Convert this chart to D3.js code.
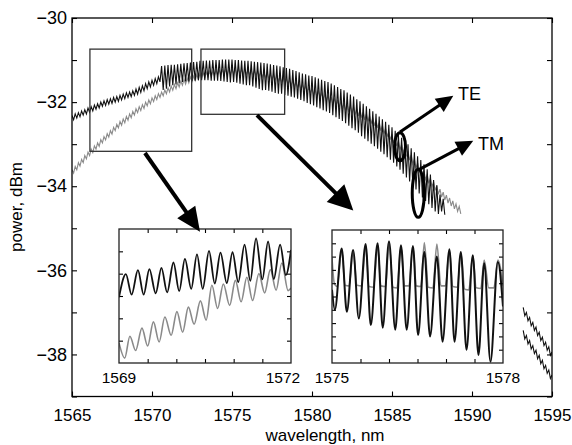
<!DOCTYPE html>
<html>
<head>
<meta charset="utf-8">
<script src="https://cdn.jsdelivr.net/npm/d3@7"></script>
<style>
  body { margin: 0; background: #fff; }
  text { font-family: "Liberation Sans", Arial, Helvetica, sans-serif; }
</style>
</head>
<body>
<div class="visHolder"></div>
<script>
// ---- main axes ----
var wlDomain = [1565, 1595],
    powerDomain = [-39, -30];
var xTicks = [1565, 1570, 1575, 1580, 1585, 1590, 1595];
var yTicks = [-39, -38, -37, -36, -35, -34, -33, -32, -31, -30];
var yLabels = [-38, -36, -34, -32, -30];

// main traces: max / min of the fringes, alternating every 0.1 nm from tmStart
// TM = black trace
var tmStart = 1565;
var tmMax = [
  -32.32,-32.28,-32.25,-32.21,-32.18, -32.14,-32.11,-32.07,-32.04,-32.00,
  -31.97,-31.94,-31.92,-31.89,-31.87, -31.84,-31.81,-31.78,-31.76,-31.73,
  -31.69,-31.65,-31.61,-31.56,-31.52, -31.48,-31.44,-31.40,-31.14,-31.13,
  -31.12,-31.11,-31.11,-31.10,-31.09, -31.08,-31.07,-31.06,-31.05,-31.04,
  -31.02,-31.02,-31.01,-31.01,-31.00, -31.00,-31.00,-30.99,-30.99,-30.99,
  -30.99,-31.00,-31.00,-31.01,-31.02, -31.02,-31.03,-31.04,-31.05,-31.06,
  -31.07,-31.08,-31.10,-31.12,-31.13, -31.15,-31.17,-31.19,-31.21,-31.24,
  -31.26,-31.29,-31.32,-31.34,-31.37, -31.38,-31.41,-31.44,-31.47,-31.50,
  -31.52,-31.56,-31.60,-31.64,-31.69, -31.72,-31.77,-31.82,-31.87,-31.93,
  -31.98,-32.04,-32.10,-32.16,-32.22, -32.28,-32.34,-32.41,-32.47,-32.54,
  -32.60,-32.68,-32.77,-32.85,-32.93, -33.00,-33.10,-33.19,-33.29,-33.38,
  -33.48,-33.60,-33.72,-33.85,-33.98, -34.20,-34.30
];
var tmMin = [
  -32.42,-32.38,-32.35,-32.31,-32.28, -32.24,-32.21,-32.17,-32.14,-32.10,
  -32.08,-32.05,-32.03,-32.00,-31.98, -31.95,-31.92,-31.89,-31.87,-31.84,
  -31.81,-31.77,-31.73,-31.68,-31.64, -31.60,-31.56,-31.52,-31.71,-31.68,
  -31.63,-31.60,-31.58,-31.55,-31.52, -31.51,-31.51,-31.50,-31.49,-31.48,
  -31.48,-31.48,-31.48,-31.49,-31.49, -31.49,-31.50,-31.51,-31.52,-31.53,
  -31.52,-31.54,-31.56,-31.58,-31.60, -31.60,-31.63,-31.66,-31.69,-31.72,
  -31.71,-31.73,-31.75,-31.78,-31.80, -31.80,-31.83,-31.85,-31.87,-31.89,
  -31.92,-31.95,-31.98,-32.02,-32.05, -32.08,-32.12,-32.15,-32.19,-32.22,
  -32.26,-32.31,-32.36,-32.40,-32.45, -32.50,-32.56,-32.62,-32.67,-32.73,
  -32.81,-32.87,-32.93,-32.99,-33.05, -33.11,-33.18,-33.24,-33.31,-33.37,
  -33.44,-33.53,-33.61,-33.70,-33.79, -33.89,-33.98,-34.08,-34.17,-34.27,
  -34.35,-34.43,-34.52,-34.60,-34.66, -34.60,-34.68
];
// TE = grey trace
var teStart = 1565;
var teMax = [
  -33.61,-33.53,-33.44,-33.36,-33.27, -33.19,-33.12,-33.04,-32.97,-32.89,
  -32.82,-32.75,-32.68,-32.60,-32.53, -32.46,-32.40,-32.34,-32.28,-32.22,
  -32.16,-32.11,-32.06,-32.00,-31.95, -31.90,-31.85,-31.80,-31.76,-31.71,
  -31.66,-31.62,-31.58,-31.54,-31.50, -31.46,-31.43,-31.40,-31.38,-31.35,
  -31.32,-31.30,-31.29,-31.27,-31.26, -31.24,-31.23,-31.23,-31.22,-31.22,
  -31.21,-31.21,-31.21,-31.22,-31.22, -31.23,-31.24,-31.25,-31.26,-31.28,
  -31.29,-31.31,-31.33,-31.35,-31.37, -31.39,-31.42,-31.44,-31.47,-31.49,
  -31.52,-31.55,-31.58,-31.62,-31.65, -31.67,-31.71,-31.74,-31.78,-31.81,
  -31.84,-31.88,-31.91,-31.95,-31.98, -32.02,-32.05,-32.09,-32.12,-32.16,
  -32.19,-32.24,-32.28,-32.33,-32.37, -32.42,-32.49,-32.56,-32.63,-32.70,
  -32.77,-32.85,-32.93,-33.01,-33.09, -33.17,-33.26,-33.36,-33.45,-33.55,
  -33.64,-33.73,-33.81,-33.90,-33.98, -34.07,-34.14,-34.21,-34.28,-34.35,
  -34.42,-34.48
];
var teMin = [
  -33.69,-33.61,-33.52,-33.44,-33.35, -33.27,-33.20,-33.12,-33.05,-32.97,
  -32.90,-32.83,-32.76,-32.68,-32.61, -32.55,-32.49,-32.43,-32.37,-32.31,
  -32.25,-32.20,-32.15,-32.09,-32.04, -31.99,-31.94,-31.89,-31.85,-31.80,
  -31.76,-31.72,-31.68,-31.64,-31.60, -31.57,-31.54,-31.51,-31.49,-31.46,
  -31.43,-31.42,-31.40,-31.39,-31.37, -31.36,-31.35,-31.35,-31.34,-31.34,
  -31.33,-31.33,-31.33,-31.34,-31.34, -31.35,-31.36,-31.37,-31.39,-31.40,
  -31.42,-31.44,-31.46,-31.48,-31.50, -31.52,-31.55,-31.58,-31.60,-31.63,
  -31.65,-31.69,-31.72,-31.75,-31.78, -31.83,-31.86,-31.90,-31.93,-31.97,
  -32.02,-32.05,-32.09,-32.12,-32.16, -32.20,-32.23,-32.27,-32.30,-32.33,
  -32.37,-32.42,-32.46,-32.51,-32.56, -32.61,-32.68,-32.75,-32.82,-32.89,
  -32.97,-33.05,-33.13,-33.21,-33.29, -33.38,-33.47,-33.57,-33.66,-33.76,
  -33.84,-33.93,-34.01,-34.10,-34.19, -34.26,-34.33,-34.40,-34.47,-34.54,
  -34.60,-34.66
];
// short pieces at the right edge, one value every 0.1 nm from tailStart
var tailStart = 1593.2;
var tailUpper = [-36.88,-37.08,-37.00,-37.20,-37.12,-37.32,-37.24,-37.43,-37.35,-37.55,
                 -37.47,-37.67,-37.59,-37.79,-37.71,-37.90,-37.82,-38.02,-37.94];
var tailLower = [-37.43,-37.63,-37.55,-37.75,-37.67,-37.87,-37.79,-37.98,-37.90,-38.10,
                 -38.02,-38.22,-38.14,-38.34,-38.26,-38.45,-38.37,-38.57,-38.49];

// zoom boxes on the main plot [wl0, wl1, p0, p1]
var boxes = [[1566.12, 1572.48, -30.74, -33.17], [1573.06, 1578.29, -30.74, -32.29]];

// ---- inset 1 ----
var in1Wl = [1569, 1572], in1Power = [-33.5, -30.5];
var in1XTicks = [1569.5, 1570, 1570.5, 1571, 1571.5];
var in1YTicks = [-33, -32.5, -32, -31.5, -31];
var in1Labels = [1569, 1572];
var in1TmWl = [1569.00,1569.12,1569.22,1569.33,1569.43,1569.53,1569.64,1569.74,1569.84,1569.95,
               1570.05,1570.15,1570.26,1570.36,1570.46,1570.57,1570.67,1570.77,1570.88,1570.98,
               1571.08,1571.19,1571.29,1571.39,1571.50,1571.60,1571.70,1571.81,1571.91,1572.00];
var in1TmP = [-32.03,-31.51,-31.97,-31.42,-31.97,-31.40,-31.94,-31.37,-31.92,-31.25,
              -31.89,-31.17,-31.84,-31.07,-31.84,-30.99,-31.72,-31.03,-31.71,-31.02,
              -31.69,-30.85,-31.66,-30.71,-31.63,-30.78,-31.62,-30.85,-31.53,-30.97];
var in1TeWl = [1569.00,1569.10,1569.19,1569.29,1569.40,1569.50,1569.60,1569.70,1569.80,1569.91,
               1570.01,1570.11,1570.21,1570.31,1570.42,1570.52,1570.62,1570.72,1570.82,1570.93,
               1571.03,1571.13,1571.23,1571.33,1571.44,1571.54,1571.64,1571.74,1571.84,1571.95,1572.00];
var in1TeP = [-33.05,-33.39,-32.90,-33.22,-32.72,-33.12,-32.58,-33.03,-32.47,-32.88,
              -32.35,-32.81,-32.25,-32.63,-32.11,-32.54,-31.76,-32.28,-31.73,-32.21,
              -31.65,-32.13,-31.58,-32.10,-31.50,-31.93,-31.41,-31.87,-31.26,-31.88,-31.82];

// ---- inset 2 ----
var in2Wl = [1575, 1578], in2Power = [-32.6, -30.6];
var in2XTicks = [1575.5, 1576, 1576.5, 1577, 1577.5];
var in2YTicks = [-32.4, -32.2, -32, -31.8, -31.6, -31.4, -31.2, -31, -30.8];
var in2Labels = [1575, 1578];
var in2TmWl = [1575.00,1575.05,1575.17,1575.26,1575.37,1575.47,1575.59,1575.68,1575.80,1575.89,
               1576.00,1576.11,1576.21,1576.31,1576.42,1576.51,1576.62,1576.72,1576.84,1576.94,
               1577.06,1577.15,1577.26,1577.36,1577.47,1577.57,1577.67,1577.78,1577.91,1578.00];
var in2TmP = [-31.50,-31.80,-30.88,-31.83,-30.90,-31.93,-30.81,-32.03,-30.80,-32.07,
              -30.77,-32.10,-30.83,-32.10,-30.84,-32.18,-30.93,-32.20,-31.00,-32.28,
              -30.89,-32.28,-30.93,-32.40,-30.98,-32.48,-31.10,-32.58,-31.08,-31.75];
var in2TeWl = [1575.00,1575.04,1575.09,1575.17,1575.23,1575.30,1575.37,1575.44,1575.52,1575.59,
               1575.65,1575.73,1575.80,1575.86,1575.94,1576.00,1576.07,1576.14,1576.21,1576.27,
               1576.35,1576.42,1576.48,1576.56,1576.62,1576.69,1576.77,1576.84,1576.91,1576.99,
               1577.06,1577.12,1577.20,1577.26,1577.33,1577.40,1577.47,1577.53,1577.61,1577.67,
               1577.75,1577.84,1577.91,1578.00];
var in2TeP = [-31.02,-31.40,-31.45,-30.90,-31.43,-31.44,-30.93,-31.43,-31.44,-30.84,
              -31.45,-31.46,-30.83,-31.44,-31.45,-30.79,-31.46,-31.47,-30.85,-31.44,
              -31.44,-30.86,-31.44,-31.45,-30.79,-31.46,-31.47,-30.81,-31.44,-31.44,
              -30.91,-31.45,-31.46,-30.95,-31.49,-31.50,-30.99,-31.47,-31.48,-31.05,
              -31.47,-31.47,-31.05,-31.44];

// ---- annotations (main plot data units) ----
var arrows = [
  { from: [1569.56, -33.21], to: [1573.00, -35.08], width: 4, head: 24, half: 11 },
  { from: [1576.56, -32.31], to: [1582.58, -34.58], width: 4, head: 25, half: 12.5 },
  { from: [1585.50, -32.71], to: [1588.83, -31.85], width: 3, head: 17, half: 8 },
  { from: [1586.71, -33.60], to: [1590.08, -32.92], width: 3, head: 17, half: 8 }
];
var rings = [[1585.50, -33.06, 5.5, 14], [1586.64, -34.17, 6, 24]];
var polLabels = [["TE", 1589.125, -31.95], ["TM", 1590.375, -33.14]];

// Setting sizes
var width = 572, height = 445;
var plotLeft = 72, plotRight = 552, plotTop = 18, plotBottom = 396.5;
var black = '#111', grey = '#8a8a8a';

var svg = d3.select('.visHolder').append('svg')
  .attr('width', width)
  .attr('height', height);

var x = d3.scaleLinear().domain(wlDomain).range([plotLeft, plotRight]);
var y = d3.scaleLinear().domain(powerDomain).range([plotBottom, plotTop]);

var defs = svg.append('defs');
defs.append('clipPath').attr('id', 'mainClip').append('rect')
  .attr('x', plotLeft).attr('y', plotTop)
  .attr('width', plotRight - plotLeft).attr('height', plotBottom - plotTop);

function zig(start, hi, lo) {
  var pts = [];
  hi.forEach(function(v, i) {
    pts.push([start + i * 0.2, v]);
    pts.push([start + i * 0.2 + 0.1, lo[i]]);
  });
  return pts;
}
function steps(start, vals) {
  return vals.map(function(v, i) { return [start + i * 0.1, v]; });
}

var mainLine = d3.line()
  .x(function(d) { return x(d[0]); })
  .y(function(d) { return y(d[1]); });

var traces = svg.append('g').attr('clip-path', 'url(#mainClip)');
traces.append('path').datum(zig(teStart, teMax, teMin))
  .attr('d', mainLine).attr('fill', 'none').attr('stroke', grey).attr('stroke-width', 1.1);
traces.append('path').datum(zig(tmStart, tmMax, tmMin))
  .attr('d', mainLine).attr('fill', 'none').attr('stroke', black).attr('stroke-width', 1.1);
[tailUpper, tailLower].forEach(function(t) {
  traces.append('path').datum(steps(tailStart, t))
    .attr('d', mainLine).attr('fill', 'none').attr('stroke', black).attr('stroke-width', 1.1);
});

// zoom boxes
svg.selectAll('.zoombox').data(boxes).enter().append('rect')
  .attr('class', 'zoombox')
  .attr('x', function(d) { return x(d[0]); })
  .attr('y', function(d) { return y(d[2]); })
  .attr('width', function(d) { return x(d[1]) - x(d[0]); })
  .attr('height', function(d) { return y(d[3]) - y(d[2]); })
  .attr('fill', 'none').attr('stroke', '#333').attr('stroke-width', 1.3);

// main frame with inward ticks
function ticksOnly(g) {
  g.select('.domain').remove();
  g.selectAll('.tick line').attr('stroke', '#000').attr('stroke-width', 1.1);
}
svg.append('g').attr('transform', 'translate(0,' + plotBottom + ')')
  .call(d3.axisBottom(x).tickValues(xTicks).tickSize(-5).tickPadding(12.4).tickFormat(d3.format('d')))
  .call(ticksOnly)
  .attr('font-size', 17).attr('font-family', '"Liberation Sans", Arial, sans-serif')
  .selectAll('text').attr('fill', '#000');
svg.append('g').attr('transform', 'translate(0,' + plotTop + ')')
  .call(d3.axisTop(x).tickValues(xTicks).tickSize(-5).tickFormat(''))
  .call(ticksOnly);
svg.append('g').attr('transform', 'translate(' + plotLeft + ',0)')
  .call(d3.axisLeft(y).tickValues(yTicks).tickSize(-5).tickPadding(5)
    .tickFormat(function(d) { return yLabels.indexOf(d) >= 0 ? d3.format('d')(d) : ''; }))
  .call(ticksOnly)
  .attr('font-size', 18).attr('font-family', '"Liberation Sans", Arial, sans-serif')
  .selectAll('text').attr('fill', '#000');
svg.append('g').attr('transform', 'translate(' + plotRight + ',0)')
  .call(d3.axisRight(y).tickValues(yTicks).tickSize(-5).tickFormat(''))
  .call(ticksOnly);
svg.append('rect')
  .attr('x', plotLeft).attr('y', plotTop)
  .attr('width', plotRight - plotLeft).attr('height', plotBottom - plotTop)
  .attr('fill', 'none').attr('stroke', '#000').attr('stroke-width', 1.3);

svg.append('text')
  .attr('transform', 'translate(22,207) rotate(-90)')
  .attr('text-anchor', 'middle')
  .style('font-size', '17px')
  .text('power, dBm');
svg.append('text')
  .attr('x', 325).attr('y', 441)
  .attr('text-anchor', 'middle')
  .style('font-size', '17px')
  .text('wavelength, nm');

// insets
function drawInset(id, box, wl, pw, xt, yt, labels, series) {
  var xs = d3.scaleLinear().domain(wl).range([box[0], box[1]]);
  var ys = d3.scaleLinear().domain(pw).range([box[3], box[2]]);
  var g = svg.append('g');
  g.append('rect')
    .attr('x', box[0]).attr('y', box[2])
    .attr('width', box[1] - box[0]).attr('height', box[3] - box[2])
    .attr('fill', '#fff');
  defs.append('clipPath').attr('id', id).append('rect')
    .attr('x', box[0]).attr('y', box[2])
    .attr('width', box[1] - box[0]).attr('height', box[3] - box[2]);
  var line = d3.line()
    .x(function(d) { return xs(d[0]); })
    .y(function(d) { return ys(d[1]); })
    .curve(d3.curveMonotoneX);
  var lines = g.append('g').attr('clip-path', 'url(#' + id + ')');
  series.forEach(function(s) {
    lines.append('path')
      .datum(s.wl.map(function(w, i) { return [w, s.p[i]]; }))
      .attr('d', line).attr('fill', 'none')
      .attr('stroke', s.color).attr('stroke-width', s.w);
  });
  g.append('g').attr('transform', 'translate(0,' + box[3] + ')')
    .call(d3.axisBottom(xs).tickValues(xt).tickSize(-4).tickFormat('')).call(ticksOnly);
  g.append('g').attr('transform', 'translate(0,' + box[2] + ')')
    .call(d3.axisTop(xs).tickValues(xt).tickSize(-4).tickFormat('')).call(ticksOnly);
  g.append('g').attr('transform', 'translate(' + box[0] + ',0)')
    .call(d3.axisLeft(ys).tickValues(yt).tickSize(-4).tickFormat('')).call(ticksOnly);
  g.append('g').attr('transform', 'translate(' + box[1] + ',0)')
    .call(d3.axisRight(ys).tickValues(yt).tickSize(-4).tickFormat('')).call(ticksOnly);
  g.append('rect')
    .attr('x', box[0]).attr('y', box[2])
    .attr('width', box[1] - box[0]).attr('height', box[3] - box[2])
    .attr('fill', 'none').attr('stroke', '#222').attr('stroke-width', 1.3);
  g.selectAll('.inlabel').data(labels).enter().append('text')
    .attr('class', 'inlabel')
    .attr('x', function(d) { return xs(d); })
    .attr('y', box[3] + 20)
    .attr('text-anchor', 'middle')
    .style('font-size', '15.5px')
    .text(function(d) { return d; });
  return g;
}

var inset1 = drawInset('in1Clip', [119, 291, 229, 363], in1Wl, in1Power, in1XTicks, in1YTicks, in1Labels, [
  { wl: in1TeWl, p: in1TeP, color: grey, w: 1.6 },
  { wl: in1TmWl, p: in1TmP, color: black, w: 1.8 }
]);
// the right label sits a little to the left in the original
inset1.selectAll('.inlabel').filter(function(d) { return d === 1572; }).attr('dx', -8);

drawInset('in2Clip', [332, 503, 230, 363], in2Wl, in2Power, in2XTicks, in2YTicks, in2Labels, [
  { wl: in2TeWl, p: in2TeP, color: grey, w: 1.6 },
  { wl: in2TmWl, p: in2TmP, color: black, w: 2 }
]);

// arrows and rings
var ann = svg.append('g');
arrows.forEach(function(a) {
  var x1 = x(a.from[0]), y1 = y(a.from[1]), x2 = x(a.to[0]), y2 = y(a.to[1]);
  var dx = x2 - x1, dy = y2 - y1, len = Math.sqrt(dx * dx + dy * dy);
  var ux = dx / len, uy = dy / len;
  var bx = x2 - ux * a.head, by = y2 - uy * a.head;
  ann.append('line')
    .attr('x1', x1).attr('y1', y1)
    .attr('x2', bx + ux * 2).attr('y2', by + uy * 2)
    .attr('stroke', '#000').attr('stroke-width', a.width);
  ann.append('path')
    .attr('d', 'M' + x2 + ',' + y2 +
      'L' + (bx - uy * a.half) + ',' + (by + ux * a.half) +
      'L' + (bx + uy * a.half) + ',' + (by - ux * a.half) + 'Z')
    .attr('fill', '#000');
});
ann.selectAll('ellipse').data(rings).enter().append('ellipse')
  .attr('cx', function(d) { return x(d[0]); })
  .attr('cy', function(d) { return y(d[1]); })
  .attr('rx', function(d) { return d[2]; })
  .attr('ry', function(d) { return d[3]; })
  .attr('fill', 'none').attr('stroke', '#000').attr('stroke-width', 3);
ann.selectAll('.pol').data(polLabels).enter().append('text')
  .attr('class', 'pol')
  .attr('x', function(d) { return x(d[1]); })
  .attr('y', function(d) { return y(d[2]); })
  .style('font-size', '18px')
  .text(function(d) { return d[0]; });
</script>
</body>
</html>
